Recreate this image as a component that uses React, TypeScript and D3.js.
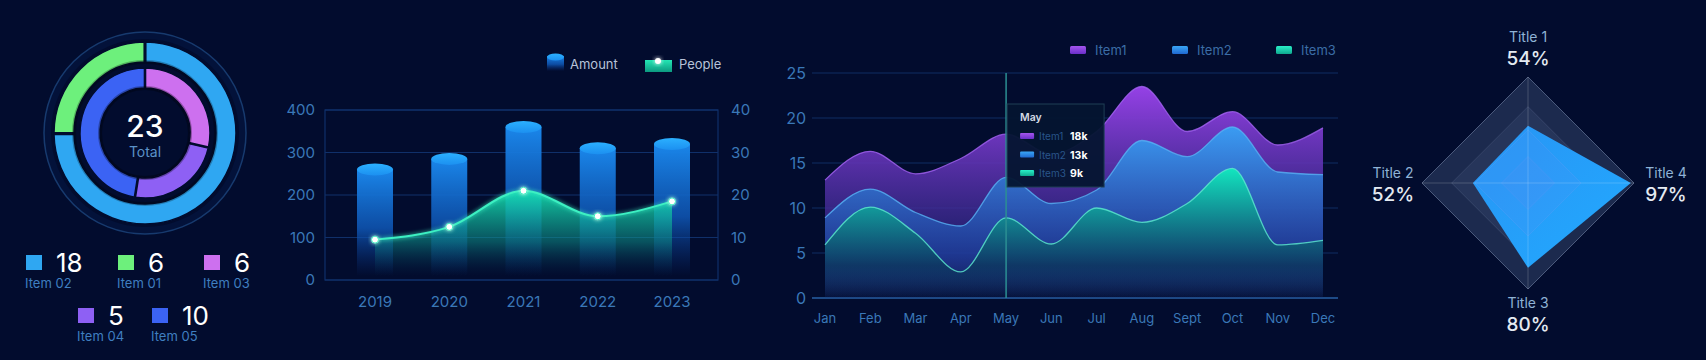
import * as d3 from "d3";

const BG = "#020c2e";
const FONT = "Inter, 'Open Sans', sans-serif";
const AXIS_TEXT = "#3a78b8";

// ---- donut data
const outerNames = ["Item 02", "Item 01"];
const outerValues = [18, 6];
const outerColors = ["#2fa7f2", "#6df07c"];
const innerNames = ["Item 03", "Item 04", "Item 05"];
const innerValues = [6, 5, 10];
const innerColors = ["#cd70ef", "#8e60f4", "#3b63f4"];
const donutTotal = 23;
const legendRows = [["Item 02", "Item 01", "Item 03"], ["Item 04", "Item 05"]];

// ---- bar + line data
const years = ["2019", "2020", "2021", "2022", "2023"];
const amount = [260, 285, 360, 310, 320];
const people = [9.5, 12.5, 21, 15, 18.5];
const amountTicks = [0, 100, 200, 300, 400];
const peopleTicks = [0, 10, 20, 30, 40];

// ---- area data
const months = ["Jan", "Feb", "Mar", "Apr", "May", "Jun", "Jul", "Aug", "Sept", "Oct", "Nov", "Dec"];
const item1 = [13.1, 16.3, 13.8, 15.5, 18.2, 16, 18.5, 23.5, 18.5, 20.7, 17, 18.9];
const item2 = [8.9, 12.1, 9.5, 8, 13.4, 10.5, 12, 17.5, 15.7, 19, 14, 13.7];
const item3 = [5.9, 10.1, 7.2, 2.9, 8.9, 6, 10, 8.4, 10.5, 14.4, 5.9, 6.4];
const areaTicks = [0, 5, 10, 15, 20, 25];
const areaNames = ["Item1", "Item2", "Item3"];
const hoverMonth = "May";

// ---- radar data
const radarTitles = ["Title 1", "Title 4", "Title 3", "Title 2"];
const radarValues = [54, 97, 80, 52];
const radarLevels = [0.25, 0.5, 0.72, 1];

const areaStyles = [
  { top: "#9541e6", bottom: "#2a2580", line: "#a463f2", icon: ["#a455ee", "#6a2fc8"] },
  { top: "#3a9cf2", bottom: "#1f3f9e", line: "#58b2f4", icon: ["#3aa6f6", "#1f68d0"] },
  { top: "#12e6bf", bottom: "#0b3a5c", line: "#5eeccf", icon: ["#2af0c8", "#0ea88e"] },
];

function Donut() {
  const cx = 145, cy = 133;
  const pie = d3.pie<number>().sort(null).padAngle(0.014);
  const outerArc = d3.arc<d3.PieArcDatum<number>>().innerRadius(71).outerRadius(91);
  const innerArc = d3.arc<d3.PieArcDatum<number>>().innerRadius(45).outerRadius(65);
  const names = [...outerNames, ...innerNames];
  const values = [...outerValues, ...innerValues];
  const colors = [...outerColors, ...innerColors];
  const lookup = (n: string) => names.indexOf(n);
  const rowX = [[26, 118, 204], [78, 152]];
  const rowY = [255, 308];
  return (
    <g>
      <circle cx={cx} cy={cy} r={101} fill="#03123a" stroke="#173a6e" strokeWidth={1.5} />
      <circle cx={cx} cy={cy} r={94} fill={BG} />
      <g transform={`translate(${cx},${cy})`}>
        {pie(outerValues).map((d, i) => (
          <path key={"o" + i} d={outerArc(d) ?? ""} fill={outerColors[i]} stroke={BG} strokeWidth={1.5} />
        ))}
        {pie(innerValues).map((d, i) => (
          <path key={"i" + i} d={innerArc(d) ?? ""} fill={innerColors[i]} stroke={BG} strokeWidth={1.5} />
        ))}
        <circle r={71} fill="none" stroke="#000000" strokeOpacity={0.25} strokeWidth={4} />
        <circle r={45} fill="none" stroke="#000000" strokeOpacity={0.3} strokeWidth={4} />
      </g>
      <text x={cx} y={137} textAnchor="middle" fill="#ffffff" fontSize={30} fontWeight={500}>{donutTotal}</text>
      <text x={cx} y={157} textAnchor="middle" fill="#5b92c8" fontSize={14}>Total</text>
      {legendRows.map((row, r) =>
        row.map((n, j) => {
          const k = lookup(n);
          const x = rowX[r][j];
          const y = rowY[r];
          return (
            <g key={n}>
              <rect x={x} y={y} width={16} height={15} fill={colors[k]} />
              <text x={x + 30} y={y + 17} fill="#ffffff" fontSize={26} fontWeight={400}>{values[k]}</text>
              <text x={x - 1} y={y + 33} fill="#3f7fc0" fontSize={13}>{n}</text>
            </g>
          );
        })
      )}
    </g>
  );
}

function BarLine() {
  const left = 325, right = 718, top = 110, bottom = 280;
  const x = d3.scalePoint<string>().domain(years).range([375, 672]);
  const yL = d3.scaleLinear().domain([0, 400]).range([bottom, top]);
  const yR = d3.scaleLinear().domain([0, 40]).range([bottom, top]);
  const bw = 36, ry = 6, fadeY = 276;
  const pts = years.map((yr, i) => [x(yr)!, yR(people[i])] as [number, number]);
  const line = d3.line().curve(d3.curveMonotoneX)(pts) ?? "";
  const area = d3.area().curve(d3.curveMonotoneX).y0(fadeY)(pts) ?? "";
  return (
    <g>
      <defs>
        <linearGradient id="barBody" x1="0" y1="0" x2="0" y2="1">
          <stop offset="0" stopColor="#1a86ea" />
          <stop offset="0.55" stopColor="#0f58b8" stopOpacity={0.85} />
          <stop offset="1" stopColor="#0a3a90" stopOpacity={0} />
        </linearGradient>
        <linearGradient id="barTop" x1="0" y1="0" x2="0" y2="1">
          <stop offset="0" stopColor="#2bb0ff" />
          <stop offset="1" stopColor="#1c90f0" />
        </linearGradient>
        <linearGradient id="peopleArea" x1="0" y1="0" x2="0" y2="1">
          <stop offset="0" stopColor="#16e8b4" stopOpacity={0.9} />
          <stop offset="0.6" stopColor="#0d8c86" stopOpacity={0.55} />
          <stop offset="1" stopColor="#083a60" stopOpacity={0} />
        </linearGradient>
        <linearGradient id="peopleIcon" x1="0" y1="0" x2="0" y2="1">
          <stop offset="0" stopColor="#24e6b4" />
          <stop offset="1" stopColor="#0c9a80" />
        </linearGradient>
        <filter id="glow" x="-50%" y="-50%" width="200%" height="200%">
          <feGaussianBlur stdDeviation="2.2" result="b" />
          <feMerge>
            <feMergeNode in="b" />
            <feMergeNode in="SourceGraphic" />
          </feMerge>
        </filter>
      </defs>
      {/* legend */}
      <rect x={547} y={56} width={17} height={15} fill="url(#barBody)" />
      <ellipse cx={555.5} cy={57} rx={8.5} ry={3.5} fill="url(#barTop)" />
      <text x={570} y={69} fill="#b7c3d8" fontSize={13}>Amount</text>
      <rect x={645} y={60} width={27} height={12} fill="url(#peopleIcon)" />
      <circle cx={658} cy={61} r={3} fill="#ffffff" filter="url(#glow)" />
      <text x={679} y={69} fill="#b7c3d8" fontSize={13}>People</text>

      {amountTicks.map((t) => (
        <g key={t}>
          <line x1={left} x2={right} y1={yL(t)} y2={yL(t)} stroke="#10306a" strokeWidth={1.2} />
          <text x={315} y={yL(t) + 5} textAnchor="end" fill={AXIS_TEXT} fontSize={15}>{t}</text>
        </g>
      ))}
      {peopleTicks.map((t) => (
        <text key={t} x={731} y={yR(t) + 5} fill={AXIS_TEXT} fontSize={15}>{t}</text>
      ))}
      <rect x={left} y={top} width={right - left} height={bottom - top} fill="none" stroke="#10306a" strokeWidth={1.2} />

      {years.map((yr, i) => {
        const cx = x(yr)!;
        const yt = yL(amount[i]);
        return (
          <g key={yr}>
            <rect x={cx - bw / 2} y={yt} width={bw} height={fadeY - yt} fill="url(#barBody)" />
            <ellipse cx={cx} cy={yt} rx={bw / 2} ry={ry} fill="url(#barTop)" />
            <text x={cx} y={307} textAnchor="middle" fill={AXIS_TEXT} fontSize={15}>{yr}</text>
          </g>
        );
      })}
      <path d={area} fill="url(#peopleArea)" />
      <path d={line} fill="none" stroke="#3cf0c2" strokeWidth={2} filter="url(#glow)" />
      {pts.map((p, i) => (
        <circle key={i} cx={p[0]} cy={p[1]} r={3.5} fill="#ffffff" stroke="#3cf0c2" strokeWidth={1} filter="url(#glow)" />
      ))}
    </g>
  );
}

function Areas() {
  const left = 812, right = 1338;
  const x = d3.scalePoint<string>().domain(months).range([825, 1323]);
  const y = d3.scaleLinear().domain([0, 25]).range([298, 73]);
  const series = [item1, item2, item3];
  const area = d3.area<number>().curve(d3.curveMonotoneX)
    .x((_, i) => x(months[i])!).y0(y(0)).y1((d) => y(d));
  const line = d3.line<number>().curve(d3.curveMonotoneX)
    .x((_, i) => x(months[i])!).y((d) => y(d));
  const hx = x(hoverMonth)!;
  const hi = months.indexOf(hoverMonth);
  const legendX = [1070, 1172, 1276];
  const tx = hx + 1, ty = 104;
  return (
    <g>
      <defs>
        {areaStyles.map((s, i) => (
          <g key={i}>
            <linearGradient id={`ar${i}`} x1="0" y1="0" x2="0" y2="1">
              <stop offset="0" stopColor={s.top} />
              <stop offset="0.75" stopColor={s.bottom} stopOpacity={0.75} />
              <stop offset="1" stopColor={s.bottom} stopOpacity={0.05} />
            </linearGradient>
            <linearGradient id={`ic${i}`} x1="0" y1="0" x2="0" y2="1">
              <stop offset="0" stopColor={s.icon[0]} />
              <stop offset="1" stopColor={s.icon[1]} />
            </linearGradient>
          </g>
        ))}
      </defs>
      {areaNames.map((n, i) => (
        <g key={n}>
          <rect x={legendX[i]} y={46} width={16} height={8} rx={1.5} fill={`url(#ic${i})`} />
          <text x={legendX[i] + 25} y={55} fill="#3b6da6" fontSize={13}>{n}</text>
        </g>
      ))}
      {areaTicks.map((t) => (
        <g key={t}>
          <line x1={left} x2={right} y1={y(t)} y2={y(t)} stroke={t === 0 ? "#1d4a86" : "#0f2c62"} strokeWidth={t === 0 ? 2 : 1.2} />
          <text x={806} y={y(t) + 6} textAnchor="end" fill={AXIS_TEXT} fontSize={16}>{t}</text>
        </g>
      ))}
      {months.map((m) => (
        <text key={m} x={x(m)!} y={323} textAnchor="middle" fill={AXIS_TEXT} fontSize={13}>{m}</text>
      ))}
      {series.map((s, i) => (
        <g key={i}>
          <path d={area(s) ?? ""} fill={`url(#ar${i})`} />
          <path d={line(s) ?? ""} fill="none" stroke={areaStyles[i].line} strokeWidth={1.3} strokeOpacity={0.8} />
        </g>
      ))}
      <line x1={hx} x2={hx} y1={y(25)} y2={y(0)} stroke="#2b8f93" strokeWidth={1.5} />
      <rect x={tx} y={ty} width={97} height={83} fill="#041530" fillOpacity={0.95} stroke="#1f3f55" strokeWidth={1} />
      <text x={tx + 13} y={ty + 17} fill="#d3dae4" fontSize={10.5} fontWeight={600}>{hoverMonth}</text>
      {series.map((s, i) => (
        <g key={i}>
          <rect x={tx + 13} y={ty + 29 + i * 18.5} width={14} height={6} rx={1} fill={`url(#ic${i})`} />
          <text x={tx + 32} y={ty + 36 + i * 18.5} fill="#28558a" fontSize={10}>{areaNames[i]}</text>
          <text x={tx + 63} y={ty + 36 + i * 18.5} fill="#ffffff" fontSize={10.5} fontWeight={700}>{Math.round(s[hi])}k</text>
        </g>
      ))}
    </g>
  );
}

function Radar() {
  const cx = 1528, cy = 183, R = 106;
  const n = radarTitles.length;
  const angle = (i: number) => -Math.PI / 2 + (i * 2 * Math.PI) / n;
  const r = d3.scaleLinear().domain([0, 100]).range([0, R]);
  const ring = (f: number) =>
    d3.range(n).map((i) => [cx + Math.cos(angle(i)) * R * f, cy + Math.sin(angle(i)) * R * f].join(",")).join(" ");
  const poly = radarValues
    .map((v, i) => [cx + Math.cos(angle(i)) * r(v), cy + Math.sin(angle(i)) * r(v)].join(","))
    .join(" ");
  const labelPos = [
    { x: cx, y: 42, y2: 65 },
    { x: 1666, y: 178, y2: 201 },
    { x: cx, y: 308, y2: 331 },
    { x: 1393, y: 178, y2: 201 },
  ];
  return (
    <g>
      <defs>
        <linearGradient id="radarFill" x1="0" y1="0" x2="1" y2="1">
          <stop offset="0" stopColor="#2894f4" />
          <stop offset="1" stopColor="#22aaff" />
        </linearGradient>
      </defs>
      <polygon points={ring(1)} fill="#1c2a4e" stroke="#4b5a7c" strokeWidth={1} />
      <polygon points={ring(0.72)} fill="#26355a" stroke="#3b4a6e" strokeWidth={0.8} />
      <polygon points={poly} fill="url(#radarFill)" />
      {radarLevels.slice(0, 2).map((f) => (
        <polygon key={f} points={ring(f)} fill="#8a7cf0" fillOpacity={0.08} stroke="#6a9ef8" strokeOpacity={0.25} />
      ))}
      {d3.range(n).map((i) => (
        <line key={i} x1={cx} y1={cy} x2={cx + Math.cos(angle(i)) * R} y2={cy + Math.sin(angle(i)) * R}
          stroke="#ffffff" strokeOpacity={0.18} strokeWidth={1} />
      ))}
      {radarTitles.map((t, i) => (
        <g key={t}>
          <text x={labelPos[i].x} y={labelPos[i].y} textAnchor="middle" fill="#8fb3d6" fontSize={14}>{t}</text>
          <text x={labelPos[i].x} y={labelPos[i].y2} textAnchor="middle" fill="#e4eaf2" fontSize={19} fontWeight={500}>{radarValues[i]}%</text>
        </g>
      ))}
    </g>
  );
}

export default function App() {
  if (typeof document !== "undefined") {
    document.body.style.margin = "0";
    document.body.style.background = BG;
  }
  return (
    <svg width={1706} height={360} style={{ display: "block", background: BG, fontFamily: FONT }}>
      <rect width={1706} height={360} fill={BG} />
      <Donut />
      <BarLine />
      <Areas />
      <Radar />
    </svg>
  );
}
